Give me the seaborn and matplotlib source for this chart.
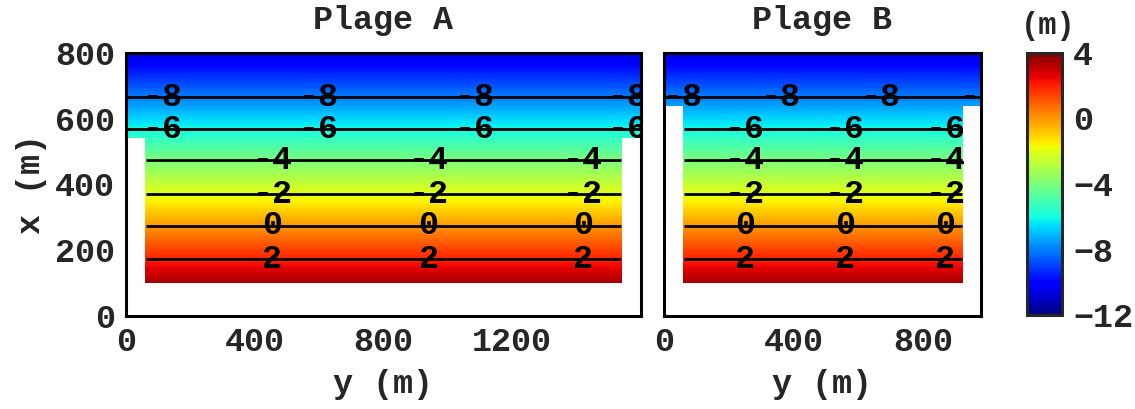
import numpy as np
import matplotlib.pyplot as plt
import seaborn as sns

# cross-shore profile (x in m -> depth in m)
profile_x = [100, 173, 274, 371, 474, 568, 666, 800]
profile_h = [3.5, 2, 0, -2, -4, -6, -8, -10.7]

levels = [-8, -6, -4, -2, 0, 2]

# the two beaches: domain outline and label columns
plages = ["Plage A", "Plage B"]
y_max = [1600, 980]
y_inner = [(60, 1540), (60, 925)]
x_shelf = [540, 640]
x_min = 100
y_ticks = [[0, 400, 800, 1200], [0, 400, 800]]
label_y_outer = [[115, 600, 1082, 1560], [57, 362, 671, 980]]
label_y_inner = [[455, 940, 1420], [250, 560, 870]]

sns.set_style("white")
plt.rcParams["font.family"] = ["Liberation Mono", "DejaVu Sans Mono"]
plt.rcParams["font.weight"] = "bold"
plt.rcParams["axes.labelweight"] = "bold"
plt.rcParams["axes.titleweight"] = "bold"
plt.rcParams["font.size"] = 24
plt.rcParams["contour.negative_linestyle"] = "solid"

# seaborn refuses "jet", so take it from matplotlib
cmap = plt.get_cmap("jet").copy()
cmap.set_bad("white")

fig = plt.figure(figsize=(11.35, 4.09), dpi=100)
W, H = 1135, 409
ax_a = fig.add_axes([126 / W, (H - 316) / H, 515 / W, 263 / H])
ax_b = fig.add_axes([664 / W, (H - 316) / H, 317 / W, 263 / H])
cax = fig.add_axes([1027 / W, (H - 315) / H, 35 / W, 262 / H])

step = 5
for ax, name, ymx, (y0, y1), xs, yt, lab_o, lab_i in zip(
        [ax_a, ax_b], plages, y_max, y_inner, x_shelf, y_ticks,
        label_y_outer, label_y_inner):
    ye = np.arange(0, ymx + step, step)
    xe = np.arange(0, 800 + step, step)
    yc = 0.5 * (ye[:-1] + ye[1:])
    xc = 0.5 * (xe[:-1] + xe[1:])
    Y, X = np.meshgrid(yc, xc)
    h = np.interp(X, profile_x, profile_h)
    mask = (X < x_min) | ((X < xs) & ((Y < y0) | (Y > y1)))
    hm = np.ma.masked_array(h, mask=mask)

    mesh = ax.pcolormesh(ye, xe, hm, cmap=cmap, vmin=-12, vmax=4,
                         shading="flat", rasterized=True)
    cs = ax.contour(Y, X, hm, levels=levels, colors="black",
                    linewidths=2, linestyles="solid")

    lev_x = dict(zip(profile_h, profile_x))
    pos = []
    for lv in levels:
        lx = lev_x[lv]
        cols = lab_o if lx > xs else lab_i
        pos += [(yy, lx) for yy in cols]
    cs.clabel(levels, manual=pos, inline=False, fmt="%d", fontsize=24,
              colors="black")

    ax.set_xlim(0, ymx)
    ax.set_ylim(0, 800)
    ax.set_xticks(yt)
    ax.set_yticks([0, 200, 400, 600, 800])
    ax.set_axisbelow(True)
    ax.tick_params(direction="in", top=True, right=True, length=6, width=2,
                   pad=8)
    for sp in ax.spines.values():
        sp.set_linewidth(2.2)
        sp.set_color("black")
    ax.set_title(name, pad=17, fontsize=24)
    ax.set_xlabel("y (m)", labelpad=8)

ax_a.set_ylabel("x (m)", labelpad=6)
ax_b.set_yticklabels([])

cb = fig.colorbar(mesh, cax=cax, ticks=[-12, -8, -4, 0, 4])
cb.outline.set_linewidth(2.2)
cax.tick_params(direction="in", left=True, right=True, length=6, width=2,
                pad=8)
cax.set_title("(m)", pad=14, fontsize=22, x=0.6)

fig.savefig("out.png", dpi=100)
